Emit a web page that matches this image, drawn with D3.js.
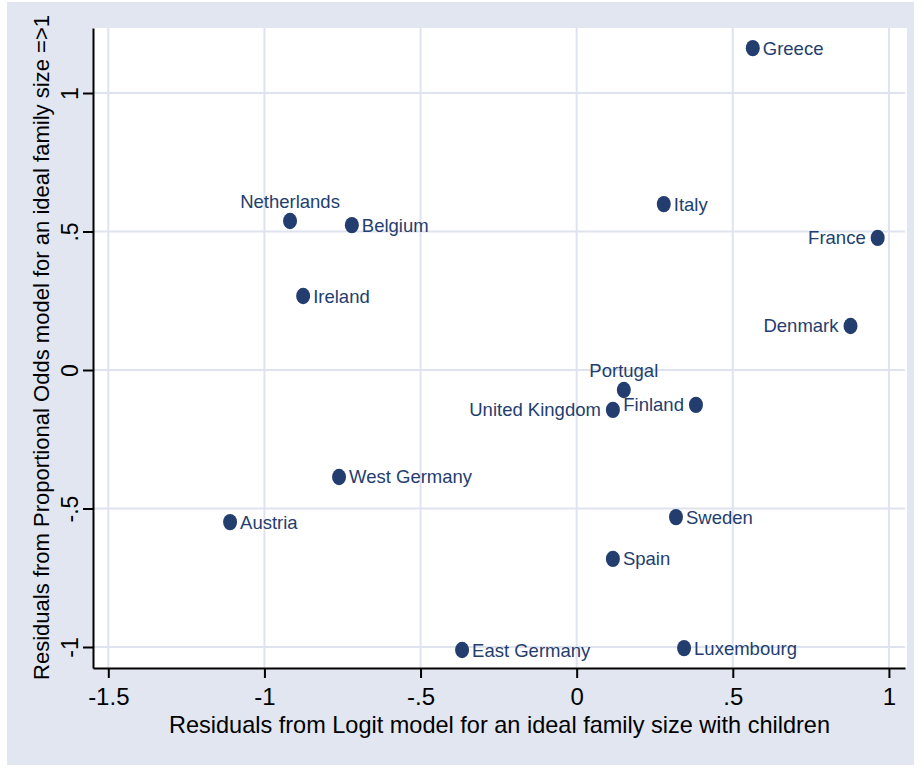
<!DOCTYPE html>
<html>
<head>
<meta charset="utf-8">
<script src="https://cdn.jsdelivr.net/npm/d3@7"></script>
<style>
  html, body { margin: 0; padding: 0; background: #ffffff; }
  svg { display: block; font-family: "Liberation Sans", Arial, sans-serif; }
</style>
</head>
<body>
<svg id="chart" width="921" height="771"></svg>
<script>
// Residuals per country from two models of ideal family size
const countries = ["Greece", "Netherlands", "Belgium", "Ireland", "Italy", "France", "Denmark",
  "Portugal", "United Kingdom", "Finland", "West Germany", "Austria", "Sweden", "Spain",
  "East Germany", "Luxembourg"];
const logitResid = [0.564, -0.918, -0.720, -0.876, 0.279, 0.964, 0.877,
  0.151, 0.116, 0.382, -0.761, -1.110, 0.318, 0.116, -0.367, 0.344];
const poResid = [1.162, 0.538, 0.523, 0.267, 0.599, 0.477, 0.159,
  -0.072, -0.144, -0.126, -0.386, -0.549, -0.531, -0.682, -1.011, -1.004];
// Marker label position as a clock direction (3 = right, 9 = left, 12 = above)
const labelClock = [3, 12, 3, 3, 3, 9, 9, 12, 9, 9, 3, 3, 3, 3, 3, 3];

const xTicks = [-1.5, -1, -0.5, 0, 0.5, 1];
const yTicks = [-1, -0.5, 0, 0.5, 1];
const xTitle = "Residuals from Logit model for an ideal family size with children";
const yTitle = "Residuals from Proportional Odds model for an ideal family size =>1";

const ink = "#233e6e";
const gridColor = "#dfe3ef";
const bgColor = "#e2e6f0";

const svg = d3.select("#chart");
const plot = { left: 93, right: 907, top: 28, bottom: 668 };

// Stata-style tick text: drop the leading zero
const fmt = v => {
  if (v === 0) return "0";
  let s = String(v);
  return s.replace(/^(-?)0\./, "$1.");
};

const x = d3.scaleLinear().domain([-1.549, 1.0515]).range([plot.left, plot.right - 2]);
const y = d3.scaleLinear().domain([-1.0758, 1.2347]).range([plot.bottom, plot.top]);

// Graph background and plot region
svg.append("rect").attr("x", 7).attr("y", 2).attr("width", 907).attr("height", 763).attr("fill", bgColor);
svg.append("rect").attr("x", plot.left).attr("y", plot.top)
  .attr("width", plot.right - plot.left).attr("height", plot.bottom - plot.top).attr("fill", "#ffffff");

// Grid lines
const grid = svg.append("g").attr("stroke", gridColor).attr("stroke-width", 2);
grid.selectAll("line.v").data(xTicks).join("line").attr("class", "v")
  .attr("x1", d => x(d)).attr("x2", d => x(d)).attr("y1", plot.top).attr("y2", plot.bottom);
grid.selectAll("line.h").data(yTicks).join("line").attr("class", "h")
  .attr("x1", plot.left).attr("x2", plot.right - 2).attr("y1", d => y(d)).attr("y2", d => y(d));

// X axis
const xAxis = svg.append("g").attr("transform", `translate(0,${plot.bottom})`)
  .call(d3.axisBottom(x).tickValues(xTicks).tickFormat(fmt).tickSizeInner(10).tickSizeOuter(0).tickPadding(4));
xAxis.select(".domain").attr("stroke", "#000").attr("stroke-width", 2);
xAxis.selectAll(".tick line").attr("stroke", "#000").attr("stroke-width", 2);
xAxis.selectAll(".tick text").attr("fill", "#000").attr("font-size", 24)
  .attr("font-family", "'Liberation Sans', Arial, sans-serif").attr("dy", "0.95em");

// Y axis with vertical tick labels
const yAxis = svg.append("g").attr("transform", `translate(${plot.left},0)`)
  .call(d3.axisLeft(y).tickValues(yTicks).tickFormat(fmt).tickSizeInner(10).tickSizeOuter(0));
yAxis.select(".domain").attr("stroke", "#000").attr("stroke-width", 2);
yAxis.selectAll(".tick line").attr("stroke", "#000").attr("stroke-width", 2);
yAxis.selectAll(".tick text")
  .attr("fill", "#000").attr("font-size", 23)
  .attr("font-family", "'Liberation Sans', Arial, sans-serif")
  .attr("x", null).attr("dy", null)
  .attr("text-anchor", "middle")
  .attr("transform", "translate(-15,0) rotate(-90)");

// Axis titles
svg.append("text").attr("x", 499.5).attr("y", 733).attr("text-anchor", "middle")
  .attr("font-size", 24).attr("fill", "#000")
  .attr("textLength", 661).attr("lengthAdjust", "spacingAndGlyphs").text(xTitle);
svg.append("text").attr("transform", "translate(49,347.5) rotate(-90)").attr("text-anchor", "middle")
  .attr("font-size", 22).attr("fill", "#000")
  .attr("textLength", 665).attr("lengthAdjust", "spacingAndGlyphs").text(yTitle);

// Markers and their labels
const pts = countries.map((c, i) => ({ name: c, lx: logitResid[i], py: poResid[i], clock: labelClock[i] }));
const marks = svg.append("g");
marks.selectAll("ellipse").data(pts).join("ellipse")
  .attr("cx", d => x(d.lx)).attr("cy", d => y(d.py))
  .attr("rx", 7).attr("ry", 8.2).attr("fill", ink);

marks.selectAll("text").data(pts).join("text")
  .attr("font-size", 18.5).attr("fill", ink)
  .attr("x", d => d.clock === 3 ? x(d.lx) + 10 : d.clock === 9 ? x(d.lx) - 12 : x(d.lx))
  .attr("y", d => d.clock === 12 ? y(d.py) - 13 : y(d.py) + 6.5)
  .attr("text-anchor", d => d.clock === 3 ? "start" : d.clock === 9 ? "end" : "middle")
  .text(d => d.name);
</script>
</body>
</html>
